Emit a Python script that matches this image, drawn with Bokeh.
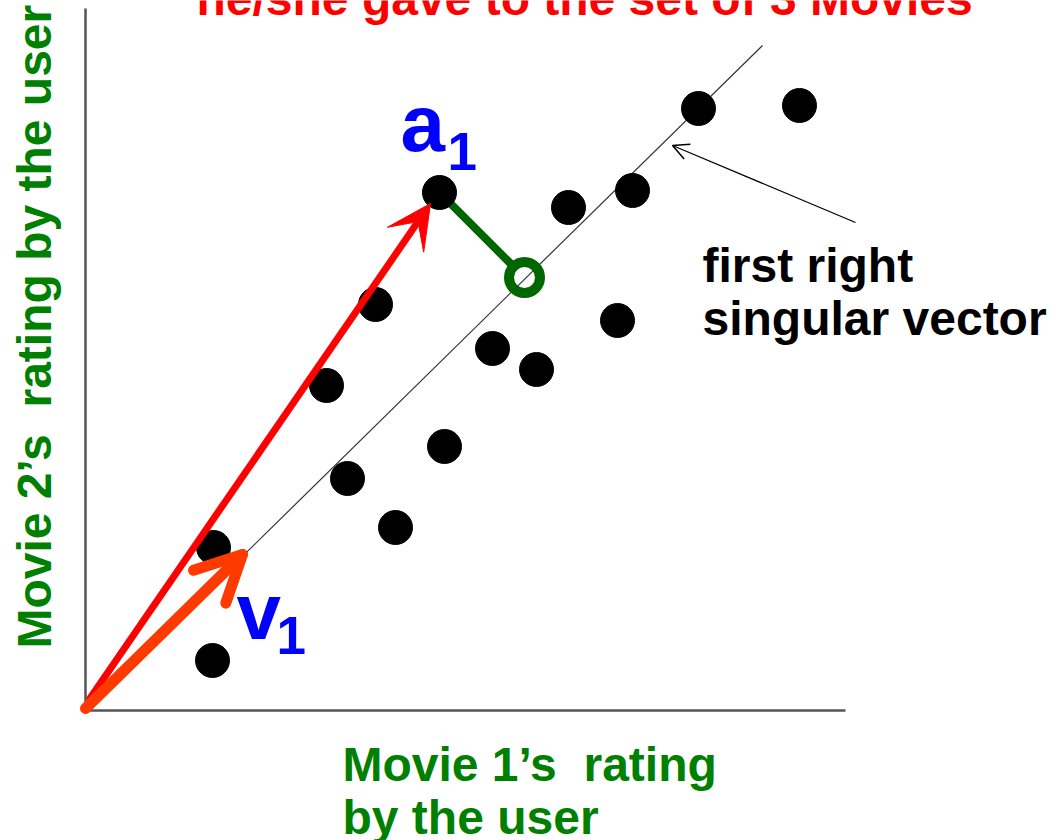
from bokeh.plotting import figure
from bokeh.models import (Range1d, LinearAxis, FixedTicker, Label, Arrow,
                          VeeHead, OpenHead, ColumnDataSource)
from bokeh.embed import file_html
from bokeh.resources import INLINE

# ---------------- data ----------------
movie1_ratings = [1.28, 1.27, 2.41, 2.62, 2.90, 3.10, 3.54, 3.59, 4.07, 4.51,
                  4.83, 5.32, 5.47, 6.13, 7.14]
movie2_ratings = [1.63, 0.50, 3.25, 2.32, 4.06, 1.83, 5.18, 2.64, 3.62, 3.41,
                  5.03, 3.90, 5.20, 6.02, 6.05]

a1_point = (3.54, 5.18)          # highlighted user
a1_projection = (4.39, 4.33)     # projection of a1 onto first right singular vector
singular_line_end = (6.77, 6.65) # extent of the thin singular-vector line
a1_arrow_tip = (3.45, 5.07)
v1_tip = (1.57, 1.56)
pointer_from = (7.70, 4.88)
pointer_to = (5.87, 5.65)

NB2 = "\u00a0 "
title_text = "he/she gave to the set of 3 Movies"
x_label_lines = ["Movie 1\u2019s" + NB2 + "rating", "by the user"]
y_label_text = "Movie 2\u2019s" + NB2 + "rating by the user"
annot_lines = ["first right", "singular vector"]

FONT = "Liberation Sans"

# ---------------- figure ----------------
p = figure(width=1059, height=840, output_backend="svg", toolbar_location=None,
           x_range=Range1d(-0.85, 9.74), y_range=Range1d(-1.30, 7.10),
           x_axis_location=None, y_axis_location=None,
           min_border=0, min_border_left=0, min_border_bottom=0,
           min_border_top=0, min_border_right=0)
p.title.visible = False
p.outline_line_color = None
p.grid.visible = False
p.background_fill_color = "white"
p.border_fill_color = "white"

for loc, bounds in (("left", (0, 7.02)), ("below", (0, 7.6))):
    ax = LinearAxis(ticker=FixedTicker(ticks=[]), bounds=bounds, fixed_location=0)
    ax.axis_line_color = "#555555"
    ax.axis_line_width = 2.5
    ax.major_tick_line_color = None
    ax.minor_tick_line_color = None
    ax.major_tick_out = 0
    ax.major_tick_in = 0
    ax.major_label_standoff = 0
    ax.axis_label_standoff = 0
    ax.major_label_text_font_size = "0px"
    p.add_layout(ax, loc)

# thin line of first right singular vector
p.segment(x0=[0], y0=[0], x1=[singular_line_end[0]], y1=[singular_line_end[1]],
          line_color="#333333", line_width=1.2)

# green projection segment (stops at ring edge)
dx = a1_point[0] - a1_projection[0]
dy = a1_point[1] - a1_projection[1]
d = (dx ** 2 + dy ** 2) ** 0.5
r = 0.15
p.segment(x0=[a1_point[0]], y0=[a1_point[1]],
          x1=[a1_projection[0] + dx / d * r], y1=[a1_projection[1] + dy / d * r],
          line_color="#006600", line_width=8)

# data points
src = ColumnDataSource(dict(x=movie1_ratings, y=movie2_ratings))
p.scatter("x", "y", source=src, size=34, fill_color="black", line_color="black")

# projection ring
p.scatter(x=[a1_projection[0]], y=[a1_projection[1]], size=31,
          fill_color=None, line_color="#006600", line_width=10)

# red arrow to a1
p.add_layout(Arrow(x_start=0.03, y_start=0.10, x_end=a1_arrow_tip[0], y_end=a1_arrow_tip[1],
                   line_color="#FF0000", line_width=7,
                   end=VeeHead(size=44, fill_color="#FF0000", line_color="#FF0000")))

# orange v1 arrow
p.add_layout(Arrow(x_start=0.0, y_start=0.02, x_end=v1_tip[0], y_end=v1_tip[1],
                   line_color="#FF3A00", line_width=11, line_cap="round",
                   end=OpenHead(size=46, line_color="#FF3A00", line_width=11,
                                line_cap="round", line_join="round")))

# pointer arrow
p.add_layout(Arrow(x_start=pointer_from[0], y_start=pointer_from[1],
                   x_end=pointer_to[0], y_end=pointer_to[1],
                   line_color="black", line_width=1.2,
                   end=OpenHead(size=16, line_color="black", line_width=1.5)))

def lab(x, y, text, color, size, angle=0.0):
    p.add_layout(Label(x=x, y=y, text=text, text_color=color, text_font=FONT,
                       text_font_style="bold", text_font_size=size,
                       text_baseline="alphabetic", text_align="left", angle=angle))

lab(1.11, 7.12, title_text, "#FF0000", "48px")
lab(2.57, -0.54, x_label_lines[0], "#008000", "48px")
lab(2.57, -1.07, x_label_lines[1], "#008000", "48px")
lab(-0.51, 0.62, y_label_text, "#008000", "48px", angle=1.5708)
lab(6.17, 4.45, annot_lines[0], "black", "48px")
lab(6.17, 3.92, annot_lines[1], "black", "48px")
lab(3.15, 5.87, "a", "#0000FF", "80px")
lab(3.62, 5.59, "1", "#0000FF", "53px")
lab(1.51, 0.99, "v", "#0000FF", "80px")
lab(1.91, 0.75, "1", "#0000FF", "53px")

open("out.html", "w").write(file_html(p, INLINE))
